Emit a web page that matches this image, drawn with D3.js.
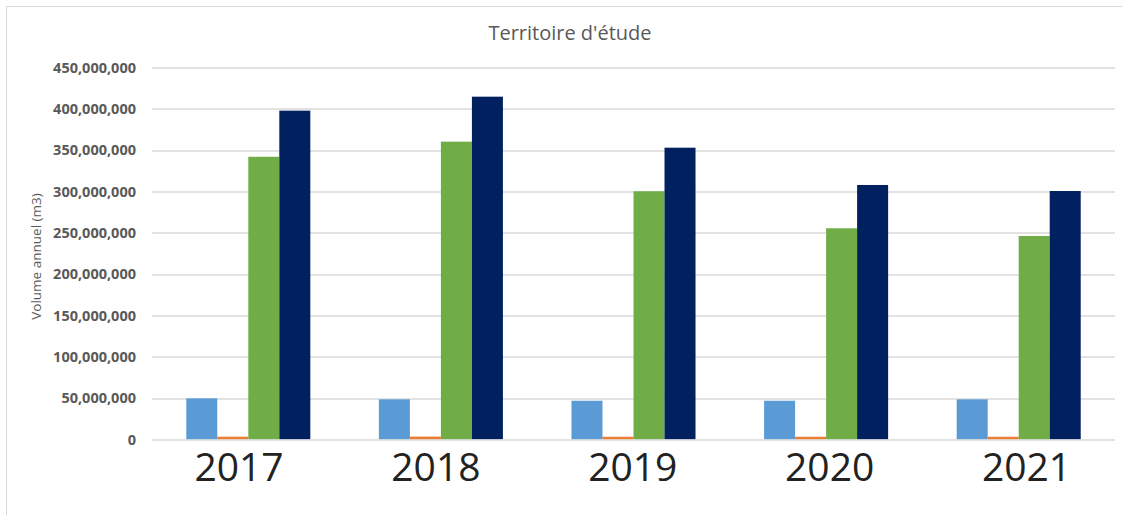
<!DOCTYPE html>
<html>
<head>
<meta charset="utf-8">
<script src="https://cdn.jsdelivr.net/npm/d3@7"></script>
<style>
  body { margin: 0; background: #fff; }
  svg { display: block; }
</style>
</head>
<body>
<div id="chart"></div>
<script>
// values (m3 per year)
var years = ["2017", "2018", "2019", "2020", "2021"];
var seriesNames = ["s1", "s2", "s3", "s4"];
var seriesColors = ["#5b9bd5", "#ed7d31", "#70ad47", "#002060"];
var s1 = [49800000, 48600000, 46900000, 46900000, 48600000];
var s2 = [3400000, 3500000, 3300000, 3300000, 3300000];
var s3 = [342000000, 360300000, 300300000, 255500000, 246200000];
var s4 = [397800000, 414700000, 353000000, 307900000, 300600000];
var yTicks = [0, 50000000, 100000000, 150000000, 200000000, 250000000, 300000000, 350000000, 400000000, 450000000];

var allSeries = [s1, s2, s3, s4];

var W = 1122, H = 515;
var margin = {top: 67.5, right: 7, bottom: 75.5, left: 152};
var width = W - margin.left - margin.right,
    height = H - margin.top - margin.bottom;

var svgWhole = d3.select("#chart").append("svg")
    .attr("width", W)
    .attr("height", H);

// chart border
svgWhole.append("rect")
    .attr("x", 6.5).attr("y", 6.5)
    .attr("width", W + 10).attr("height", H + 10)
    .style("fill", "#fff")
    .style("stroke", "#d9d9d9");

var svg = svgWhole.append("g")
    .attr("transform", "translate(" + margin.left + "," + margin.top + ")");

var x0 = d3.scaleBand().domain(years).range([0, width]).paddingInner(0.356).paddingOuter(0.178);
var x1 = d3.scaleBand().domain(seriesNames).range([0, x0.bandwidth()]);
var y = d3.scaleLinear().domain([0, 450000000]).range([height, 0]);
// category labels sit a bit wider apart than the bar groups
var xLab = d3.scalePoint().domain(years).range([86.5, 874]);

// gridlines
svg.append("g").selectAll("line.grid").data(yTicks.slice(1)).enter().append("line")
    .attr("class", "grid")
    .attr("x1", 0).attr("x2", width)
    .attr("y1", function(d) { return Math.round(y(d)) + 0.5; })
    .attr("y2", function(d) { return Math.round(y(d)) + 0.5; })
    .style("stroke", "#d9d9d9")
    .style("stroke-width", 1.3);

// y labels
var yAxis = d3.axisLeft(y).tickValues(yTicks).tickSize(0).tickPadding(16)
    .tickFormat(d3.format(","));
var yAxisG = svg.append("g").call(yAxis);
yAxisG.select(".domain").remove();
yAxisG.selectAll("text")
    .style("font-family", "'Open Sans', sans-serif")
    .style("font-weight", "bold")
    .style("font-size", "14.5px")
    .style("fill", "#595959");

// bars
var groups = svg.selectAll("g.year").data(years).enter().append("g")
    .attr("class", "year")
    .attr("transform", function(d) { return "translate(" + x0(d) + ",0)"; });

groups.selectAll("rect").data(function(d, i) {
    return allSeries.map(function(s, k) { return {key: seriesNames[k], value: s[i], color: seriesColors[k]}; });
}).enter().append("rect")
    .attr("x", function(d) { return x1(d.key); })
    .attr("width", x1.bandwidth())
    .attr("y", function(d) { return y(d.value); })
    .attr("height", function(d) { return height - y(d.value); })
    .style("fill", function(d) { return d.color; });

// baseline
svg.append("line")
    .attr("x1", 0).attr("x2", width)
    .attr("y1", height + 0.5).attr("y2", height + 0.5)
    .style("stroke", "#d9d9d9")
    .style("stroke-width", 1.3);

// x labels
var xAxis = d3.axisBottom(xLab).tickSize(0).tickPadding(14);
var xAxisG = svg.append("g").attr("transform", "translate(0," + height + ")").call(xAxis);
xAxisG.select(".domain").remove();
xAxisG.selectAll("text")
    .style("font-family", "'Open Sans', sans-serif")
    .style("font-size", "39px")
    .style("fill", "#222");

// title
svgWhole.append("text")
    .attr("x", 570).attr("y", 40)
    .attr("text-anchor", "middle")
    .style("font-family", "'Open Sans', sans-serif")
    .style("font-size", "20px")
    .style("fill", "#595959")
    .text("Territoire d'étude");

// y axis title
svgWhole.append("text")
    .attr("transform", "translate(41," + (margin.top + height / 2 + 3) + ") rotate(-90)")
    .attr("text-anchor", "middle")
    .style("font-family", "'Open Sans', sans-serif")
    .style("font-size", "13.5px")
    .style("fill", "#595959")
    .text("Volume annuel (m3)");
</script>
</body>
</html>
